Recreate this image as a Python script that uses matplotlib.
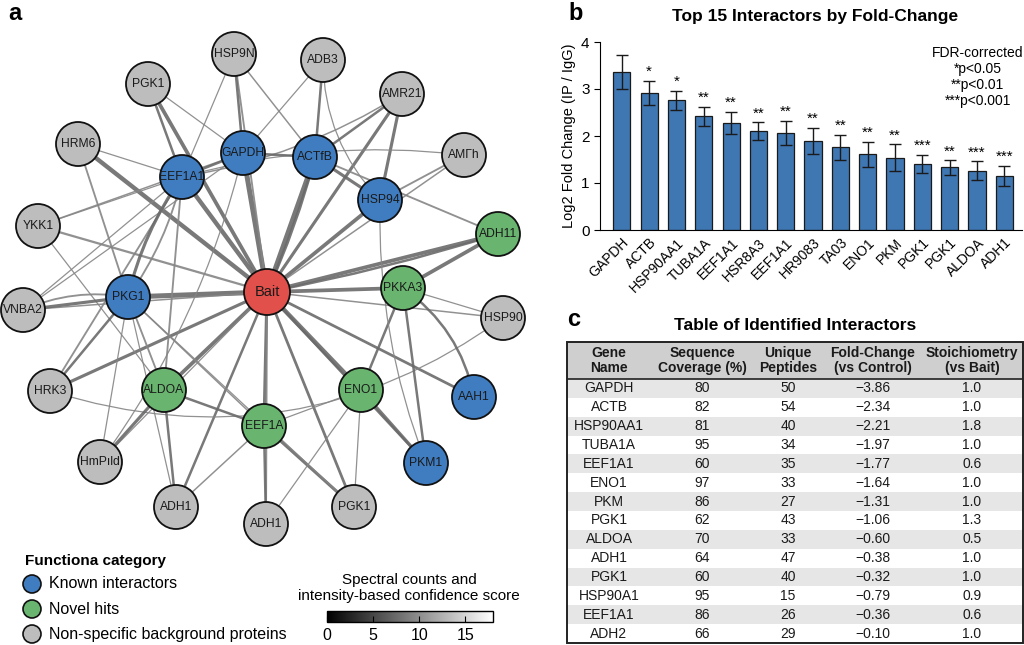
import matplotlib
matplotlib.use("Agg")
import matplotlib.pyplot as plt
from matplotlib.patches import Circle, FancyArrowPatch, Rectangle
from matplotlib.cm import ScalarMappable
from matplotlib.colors import Normalize

plt.rcParams['font.family'] = ['Liberation Sans', 'DejaVu Sans']

W, H = 1024, 645

# ---- panel a: network (layout in pixel units) ----
node_keys = ['bait', 'gapdh', 'actb', 'eef1a1', 'hsp94', 'pkg1', 'aah1', 'pkm1',
             'pkka3', 'adh11', 'aldoa', 'eno1', 'eef1a',
             'hsp9n', 'adb3', 'pgk1a', 'amr21', 'amrh', 'hrm6', 'ykk1', 'vnba2',
             'hsp90', 'hrk3', 'hmpild', 'adh1a', 'adh1b', 'pgk1b']
node_labels = ['Bait', 'GAPDH', 'ACTfB', 'EEF1A1', 'HSP94', 'PKG1', 'AAH1', 'PKM1',
               'PKKA3', 'ADH11', 'ALDOA', 'ENO1', 'EEF1A',
               'HSP9N', 'ADB3', 'PGK1', 'AMR21', 'AMΓh', 'HRM6', 'YKK1', 'VNBA2',
               'HSP90', 'HRK3', 'HmPıld', 'ADH1', 'ADH1', 'PGK1']
node_x = [267, 243, 315, 182, 380, 128, 474, 426, 403, 498, 164, 361, 264,
          234, 323, 148, 402, 464, 78, 38, 23, 503, 50, 100, 176, 266, 354]
node_y = [292, 153, 157, 177, 200, 297, 397, 463, 288, 234, 390, 390, 426,
          54, 60, 84, 94, 155, 144, 226, 310, 318, 391, 462, 507, 524, 507]
node_cat = ['bait', 'known', 'known', 'known', 'known', 'known', 'known', 'known',
            'novel', 'novel', 'novel', 'novel', 'novel',
            'bg', 'bg', 'bg', 'bg', 'bg', 'bg', 'bg', 'bg',
            'bg', 'bg', 'bg', 'bg', 'bg', 'bg']

# edges: (source, target, weight, curvature)
edges = [
    ('bait', 'gapdh', 4.0, 0), ('bait', 'actb', 4.0, 0), ('bait', 'eef1a1', 3.5, 0),
    ('bait', 'hsp94', 3.0, 0), ('bait', 'amr21', 2.5, 0), ('bait', 'hrm6', 3.5, 0),
    ('bait', 'pgk1a', 3.0, 0), ('bait', 'pkg1', 4.0, 0), ('bait', 'pkka3', 3.0, 0),
    ('bait', 'adh11', 3.0, 0), ('bait', 'hsp90', 1.2, 0), ('bait', 'aah1', 2.2, 0),
    ('bait', 'pkm1', 2.0, 0), ('bait', 'eno1', 3.5, 0), ('bait', 'eef1a', 2.5, 0),
    ('bait', 'pgk1b', 2.2, 0), ('bait', 'adh1b', 1.5, 0), ('bait', 'adh1a', 2.0, 0),
    ('bait', 'aldoa', 3.0, 0), ('bait', 'hrk3', 2.5, 0), ('bait', 'hmpild', 1.0, 0),
    ('bait', 'ykk1', 1.8, 0), ('bait', 'vnba2', 1.2, 0), ('bait', 'amrh', 1.2, 0),
    ('bait', 'hsp9n', 1.5, 0), ('bait', 'adh11', 2.0, 0.03), ('bait', 'actb', 2.5, 0.04),
    ('hsp9n', 'gapdh', 2.0, 0), ('hsp9n', 'eef1a1', 1.0, 0), ('hsp9n', 'actb', 1.2, 0),
    ('adb3', 'actb', 2.0, 0), ('adb3', 'gapdh', 1.0, 0), ('adb3', 'hsp94', 1.0, 0.2),
    ('pgk1a', 'eef1a1', 2.0, 0), ('pgk1a', 'gapdh', 1.0, 0),
    ('amr21', 'actb', 2.0, 0), ('amr21', 'hsp94', 2.5, 0), ('amr21', 'eef1a1', 1.2, -0.1),
    ('amrh', 'hsp94', 1.5, 0), ('amrh', 'eef1a1', 1.0, 0.1),
    ('hrm6', 'eef1a1', 1.0, 0), ('hrm6', 'pkg1', 1.5, 0),
    ('ykk1', 'eef1a1', 1.0, 0), ('ykk1', 'gapdh', 1.2, 0), ('ykk1', 'aldoa', 1.0, 0),
    ('vnba2', 'pkg1', 2.5, 0), ('vnba2', 'eef1a1', 1.0, 0), ('vnba2', 'gapdh', 1.0, 0),
    ('vnba2', 'pkg1', 1.5, -0.15),
    ('hrk3', 'pkg1', 2.0, 0), ('hrk3', 'eef1a1', 1.5, 0), ('hrk3', 'hsp90', 1.0, 0.25),
    ('aldoa', 'pkg1', 1.5, 0), ('aldoa', 'eef1a', 2.0, 0), ('aldoa', 'hmpild', 2.5, 0),
    ('aldoa', 'adh1a', 2.0, 0), ('aldoa', 'eef1a1', 1.5, 0),
    ('hmpild', 'pkg1', 1.0, 0), ('hmpild', 'gapdh', 1.0, 0.1),
    ('eef1a', 'adh1b', 2.0, 0), ('eef1a', 'pgk1b', 2.5, 0), ('eef1a', 'eno1', 1.0, 0),
    ('eef1a', 'adh1a', 1.2, 0), ('eef1a', 'pkg1', 1.2, 0),
    ('eno1', 'pkka3', 2.0, 0), ('eno1', 'pkm1', 2.5, 0), ('eno1', 'pgk1b', 1.0, 0),
    ('eno1', 'adh1b', 1.0, 0),
    ('pkka3', 'pkm1', 2.0, 0), ('pkka3', 'aah1', 2.0, -0.2), ('pkka3', 'adh11', 3.0, 0),
    ('pkka3', 'hsp90', 1.0, 0),
    ('gapdh', 'actb', 2.0, 0), ('gapdh', 'eef1a1', 2.0, 0), ('actb', 'hsp94', 2.5, 0),
    ('hsp94', 'pkm1', 1.0, 0.1), ('eef1a1', 'pkg1', 2.5, 0.1), ('eef1a1', 'pkg1', 1.5, -0.1),
    ('pkg1', 'pgk1b', 1.0, 0), ('pkg1', 'adh1a', 1.0, 0), ('adh11', 'actb', 1.5, 0),
]

cat_colors = {'bait': '#e2504b', 'known': '#3f7cc0', 'novel': '#69b46f', 'bg': '#bdbdbd'}

# ---- panel b: bars ----
bar_genes = ['GAPDH', 'ACTB', 'HSP90AA1', 'TUBA1A', 'EEF1A1', 'HSR8A3', 'EEF1A1',
             'HR9083', 'TA03', 'ENO1', 'PKM', 'PGK1', 'PGK1', 'ALDOA', 'ADH1']
bar_vals = [3.37, 2.91, 2.76, 2.42, 2.28, 2.10, 2.06, 1.90, 1.76, 1.61, 1.54, 1.41,
            1.33, 1.26, 1.15]
bar_err = [0.36, 0.26, 0.20, 0.20, 0.24, 0.19, 0.26, 0.28, 0.26, 0.26, 0.28, 0.19,
           0.15, 0.20, 0.21]
bar_stars = ['', '*', '*', '**', '**', '**', '**', '**', '**', '**', '**', '***',
             '**', '***', '***']

# ---- panel c: table ----
tbl_header = ['Gene\nName', 'Sequence\nCoverage (%)', 'Unique\nPeptides',
              'Fold-Change\n(vs Control)', 'Stoichiometry\n(vs Bait)']
tbl_gene = ['GAPDH', 'ACTB', 'HSP90AA1', 'TUBA1A', 'EEF1A1', 'ENO1', 'PKM', 'PGK1',
            'ALDOA', 'ADH1', 'PGK1', 'HSP90A1', 'EEF1A1', 'ADH2']
tbl_cov = [80, 82, 81, 95, 60, 97, 86, 62, 70, 64, 60, 95, 86, 66]
tbl_pep = [50, 54, 40, 34, 35, 33, 27, 43, 33, 47, 40, 15, 26, 29]
tbl_fold = [-3.86, -2.34, -2.21, -1.97, -1.77, -1.64, -1.31, -1.06, -0.60, -0.38,
            -0.32, -0.79, -0.36, -0.10]
tbl_stoich = [1.0, 1.0, 1.8, 1.0, 0.6, 1.0, 1.0, 1.3, 0.5, 1.0, 1.0, 0.9, 0.6, 1.0]


def fig_rect(x0, y0, x1, y1):
    # pixel box (top-left origin) -> figure fraction rect
    return [x0 / W, 1 - y1 / H, (x1 - x0) / W, (y1 - y0) / H]


fig = plt.figure(figsize=(W / 100, H / 100), dpi=100)

# network
ax = fig.add_axes(fig_rect(0, 0, 530, 645))
ax.set_xlim(0, 530)
ax.set_ylim(645, 0)
ax.axis('off')
pos = {k: (x, y) for k, x, y in zip(node_keys, node_x, node_y)}
for a, b, w, rad in edges:
    shade = '#6a6a6a' if w >= 2 else '#858585'
    p = FancyArrowPatch(pos[a], pos[b], arrowstyle='-', lw=w * 0.9, color=shade,
                        connectionstyle=f'arc3,rad={rad}', shrinkA=0, shrinkB=0,
                        zorder=1, alpha=0.9)
    ax.add_patch(p)
for k, lab, x, y, c in zip(node_keys, node_labels, node_x, node_y, node_cat):
    r = 23 if c == 'bait' else 22
    ax.add_patch(Circle((x, y), r, facecolor=cat_colors[c], edgecolor='#111111',
                        lw=1.3, zorder=3))
    ax.text(x, y, lab, ha='center', va='center', fontsize=10.5 if c == 'bait' else 8.7,
            color='#1a1a1a', zorder=4)

# legend
ax.text(25, 561, 'Functiona category', fontsize=11, fontweight='bold', va='center')
leg_items = [('known', 'Known interactors'), ('novel', 'Novel hits'),
             ('bg', 'Non-specific background proteins')]
for i, (c, lab) in enumerate(leg_items):
    yy = 584 + i * 25
    ax.add_patch(Circle((32, yy), 9, facecolor=cat_colors[c], edgecolor='#111111',
                        lw=1.2, clip_on=False))
    ax.text(49, yy, lab, fontsize=11.5, va='center')

fig.text(8 / W, 1 - 14 / H, 'a', fontsize=17, fontweight='bold', va='center')

# colorbar
cax = fig.add_axes(fig_rect(327, 611, 493, 622))
cb = fig.colorbar(ScalarMappable(norm=Normalize(0, 18), cmap='gray'), cax=cax,
                  orientation='horizontal')
cb.set_ticks([0, 5, 10, 15])
cax.tick_params(direction='in', length=4, labelsize=11.5, pad=4)
cb.outline.set_linewidth(1.0)
fig.text(409 / W, 1 - 588 / H,
         'Spectral counts and\nintensity-based confidence score',
         ha='center', va='center', fontsize=11, linespacing=1.15)

# bar chart
bx = fig.add_axes(fig_rect(600, 42, 1022, 230))
xs = list(range(len(bar_genes)))
bx.bar(xs, bar_vals, width=0.63, color='#3f77b3', edgecolor='#1a1a1a', lw=0.9,
       yerr=bar_err, error_kw=dict(ecolor='#1a1a1a', elinewidth=1.0, capsize=4,
                                   capthick=1.0))
for x, v, e, s in zip(xs, bar_vals, bar_err, bar_stars):
    if s:
        bx.text(x, v + e + 0.04, s, ha='center', va='bottom', fontsize=11)
bx.set_xlim(-0.8, 14.65)
bx.set_ylim(0, 4)
bx.set_yticks([0, 1, 2, 3, 4])
bx.set_xticks(xs)
bx.set_xticklabels(bar_genes, rotation=45, ha='right', rotation_mode='anchor',
                   fontsize=10)
bx.tick_params(axis='y', labelsize=11, length=4)
bx.tick_params(axis='x', length=0, pad=4)
bx.set_ylabel('Log2 Fold Change (IP / IgG)', fontsize=10.5)
bx.spines['top'].set_visible(False)
bx.spines['right'].set_visible(False)
bx.text(0.895, 0.98, 'FDR-corrected\n*p<0.05\n**p<0.01\n***p<0.001',
        transform=bx.transAxes, ha='center', va='top', fontsize=10,
        linespacing=1.2)
fig.text(815 / W, 1 - 16 / H, 'Top 15 Interactors by Fold-Change', ha='center',
         va='center', fontsize=12.5, fontweight='bold')
fig.text(568 / W, 1 - 14 / H, 'b', fontsize=17, fontweight='bold', va='center')

# table
tx = fig.add_axes(fig_rect(567, 342, 1023, 643))
tx.set_xlim(0, 456)
tx.set_ylim(301, 0)
tx.axis('off')
head_h = 37
row_h = (301 - head_h) / len(tbl_gene)
col_x = [42, 135, 221, 306, 405]
tx.add_patch(Rectangle((0, 0), 456, head_h, facecolor='#cfcfcf', edgecolor='none'))
for j, h in enumerate(tbl_header):
    tx.text(col_x[j], head_h / 2, h, ha='center', va='center', fontsize=10,
            fontweight='bold', linespacing=1.05, color='#1a1a1a')
for i in range(len(tbl_gene)):
    y0 = head_h + i * row_h
    if i % 2 == 0:
        tx.add_patch(Rectangle((0, y0), 456, row_h, facecolor='#e6e6e6',
                               edgecolor='none'))
    cells = [tbl_gene[i], str(tbl_cov[i]), str(tbl_pep[i]),
             f'{tbl_fold[i]:.2f}'.replace('-', '\u2212'), f'{tbl_stoich[i]:.1f}']
    for j, c in enumerate(cells):
        tx.text(col_x[j], y0 + row_h / 2, c, ha='center', va='center', fontsize=10,
                color='#1a1a1a')
tx.plot([0, 456], [head_h, head_h], color='#222222', lw=1.2)
tx.add_patch(Rectangle((0, 0), 456, 301, facecolor='none', edgecolor='#222222',
                       lw=1.4, clip_on=False))
fig.text(795 / W, 1 - 326 / H, 'Table of Identified Interactors', ha='center',
         va='center', fontsize=12.5, fontweight='bold')
fig.text(567 / W, 1 - 320 / H, 'c', fontsize=17, fontweight='bold', va='center')

fig.savefig('out.png', dpi=100)
